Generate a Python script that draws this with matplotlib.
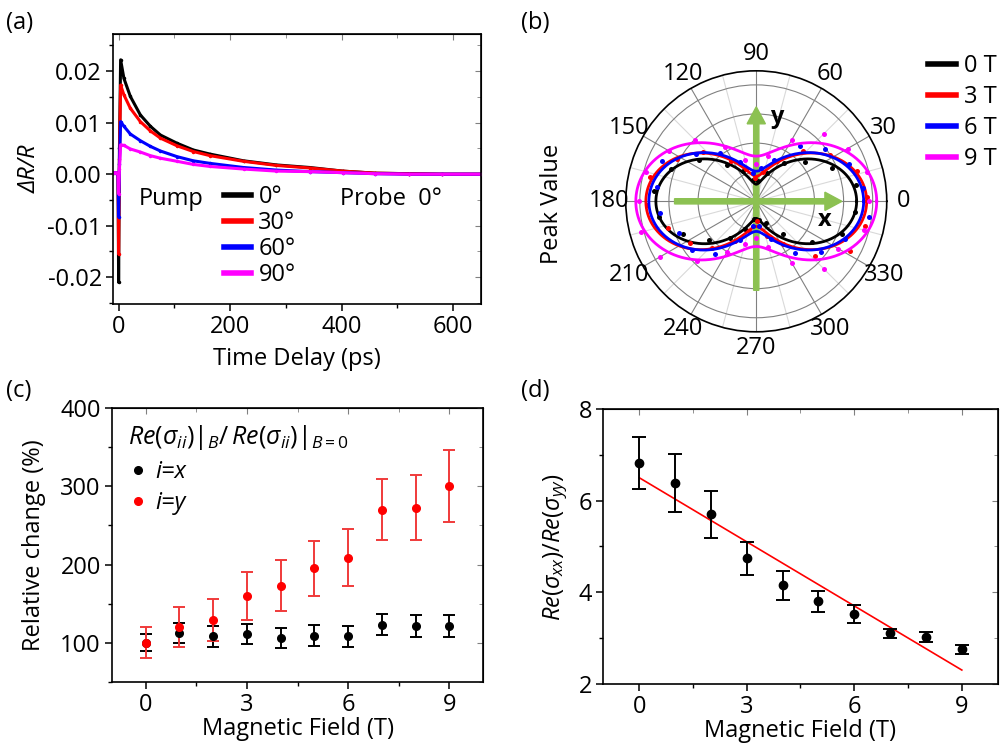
import numpy as np
import matplotlib
matplotlib.use("Agg")
import matplotlib.pyplot as plt
from matplotlib.lines import Line2D
from matplotlib.patches import FancyArrow
from matplotlib.ticker import MultipleLocator, FormatStrFormatter

plt.rcParams["font.family"] = ["Open Sans", "DejaVu Sans"]
plt.rcParams["font.size"] = 17
plt.rcParams["axes.unicode_minus"] = False
plt.rcParams["mathtext.fontset"] = "custom"
plt.rcParams["mathtext.rm"] = "Open Sans"
plt.rcParams["mathtext.it"] = "Open Sans:italic"

# (a) transient reflectivity
t_ps = [-10, -4, -1, 0, 1.5, 3.6, 9.5, 21, 39, 57, 75, 105, 134, 164, 224, 283, 343, 402, 460, 520, 580, 650]
dr_0 = [0.0003, 0.0003, 0.0002, -0.021, 0.005, 0.0222, 0.0186, 0.0151, 0.0115, 0.0093, 0.0076, 0.0060,
        0.0047, 0.0039, 0.0026, 0.0018, 0.0013, 0.0006, 0.0002, 0.0001, 0.0, 0.0]
dr_30 = [0.0003, 0.0003, 0.0002, -0.0155, 0.003, 0.0173, 0.0154, 0.0128, 0.0102, 0.0084, 0.0070, 0.0055,
         0.0044, 0.0036, 0.0025, 0.0017, 0.0012, 0.0006, 0.0002, 0.0001, 0.0, 0.0]
dr_60 = [0.0003, 0.0003, 0.0002, -0.0083, 0.002, 0.0102, 0.0093, 0.0078, 0.0065, 0.0054, 0.0045, 0.0034,
         0.0026, 0.0021, 0.0013, 0.0008, 0.0005, 0.0003, 0.0001, 0.0, 0.0, 0.0]
dr_90 = [0.0003, 0.0003, 0.0002, -0.0038, 0.001, 0.0057, 0.0056, 0.0049, 0.0043, 0.0036, 0.0031, 0.0025,
         0.0019, 0.0015, 0.0010, 0.0006, 0.0005, 0.0003, 0.0001, 0.0, 0.0, 0.0]
pump_labels = ["0°", "30°", "60°", "90°"]
colors = ["black", "#ff0000", "#0000ff", "#ff00ff"]

# (b) polar peak values: fit parameters r = A cos^2 + B sin^2 and measured dots
field_labels = ["0 T", "3 T", "6 T", "9 T"]
fit_a = [1.00, 1.10, 1.07, 1.20]
fit_b = [0.17, 0.25, 0.30, 0.45]
dot_start = [9, 2, 7, 0]
peak_0T = [1.01, .825, .62, .47, .30, .20, .22, .33, .46, .70, .91, 1.02,
           .985, .80, .61, .45, .30, .18, .19, .24, .42, .69, .915, .99]
peak_3T = [1.10, 1.05, .87, .69, .45, .30, .23, .34, .47, .72, .89, 1.085,
           1.09, .92, .78, .64, .45, .30, .20, .36, .50, .80, 1.06, 1.11]
peak_6T = [1.07, 1.00, .86, .70, .45, .34, .28, .42, .60, .76, 1.02, 1.00,
           .97, .83, .80, .66, .42, .25, .25, .40, .64, .82, .96, 1.13]
peak_9T = [1.12, 1.14, 1.05, .95, .71, .47, .37, .43, .62, .87, 1.0, 1.14,
           1.17, 1.19, 1.11, .84, .58, .44, .37, .47, .71, .95, .945, 1.11]

# (c) relative change vs field
field_t = [0, 1, 2, 3, 4, 5, 6, 7, 8, 9]
rel_x = [100, 112, 108, 111, 106, 109, 108, 123, 121, 121]
rel_x_err = [11, 13, 13, 13, 13, 13, 13, 13.5, 14, 14]
rel_y = [100, 120, 129, 160, 173, 195, 209, 270, 273, 301]
rel_y_err = [20, 26, 27, 31, 33, 35, 37, 39, 41, 46]

# (d) anisotropy ratio
ratio = [6.82, 6.39, 5.70, 4.74, 4.15, 3.80, 3.53, 3.10, 3.03, 2.75]
ratio_err = [0.57, 0.63, 0.51, 0.36, 0.31, 0.23, 0.20, 0.10, 0.11, 0.10]

GREEN = "#8cc152"


def mirror_ticks(ax, xmajor, xminor, ymajor, yminor):
    top = ax.secondary_xaxis("top")
    top.xaxis.set_major_locator(MultipleLocator(xmajor))
    top.xaxis.set_minor_locator(MultipleLocator(xminor))
    top.tick_params(which="both", direction="in", labeltop=False, color="0.5")
    top.tick_params(which="major", length=4)
    top.tick_params(which="minor", length=3)
    right = ax.secondary_yaxis("right")
    right.yaxis.set_major_locator(MultipleLocator(ymajor))
    right.yaxis.set_minor_locator(MultipleLocator(yminor))
    right.tick_params(which="both", direction="in", labelright=False, color="0.5")
    right.tick_params(which="major", length=4)
    right.tick_params(which="minor", length=3)


def style_box(ax):
    for s in ax.spines.values():
        s.set_linewidth(1.2)
    ax.tick_params(which="major", direction="out", length=5, width=1.1, pad=3)
    ax.tick_params(which="minor", direction="out", length=3, width=1.0)


def plot_a(fig):
    ax = fig.add_axes([0.1127, 0.5930, 0.3669, 0.3614])
    for vals, c in zip([dr_0, dr_30, dr_60, dr_90], colors):
        ax.plot(t_ps, vals, "-", color=c, lw=2.2, marker=".", ms=3)
    ax.set_xlim(-10, 650)
    ax.set_ylim(-0.0252, 0.0272)
    ax.xaxis.set_major_locator(MultipleLocator(200))
    ax.xaxis.set_minor_locator(MultipleLocator(100))
    ax.yaxis.set_major_locator(MultipleLocator(0.01))
    ax.yaxis.set_minor_locator(MultipleLocator(0.005))
    ax.yaxis.set_major_formatter(FormatStrFormatter("%.2f"))
    style_box(ax)
    mirror_ticks(ax, 200, 100, 0.01, 0.005)
    ax.set_xlabel("Time Delay (ps)", labelpad=6)
    ax.set_ylabel("ΔR/R", style="italic", labelpad=4)

    handles = [Line2D([], [], color=c, lw=4) for c in colors]
    ax.legend(handles, pump_labels, loc="upper left", bbox_to_anchor=(0.302, 0.44),
              frameon=False, borderpad=0, borderaxespad=0, handlelength=1.15,
              handletextpad=0.3, labelspacing=0.08)
    ax.text(0.071, 0.389, "Pump", transform=ax.transAxes, va="center", ha="left")
    ax.text(0.617, 0.389, "Probe  0°", transform=ax.transAxes, va="center", ha="left")


def plot_b(fig):
    ax = fig.add_axes([0.6239, 0.5558, 0.2602, 0.3494], projection="polar")
    theta = np.linspace(0, 2 * np.pi, 721)
    peaks = [peak_0T, peak_3T, peak_6T, peak_9T]
    for a, b, start, dots, c in zip(fit_a, fit_b, dot_start, peaks, colors):
        r = a * np.cos(theta) ** 2 + b * np.sin(theta) ** 2
        ax.plot(theta, r, color=c, lw=2.0, zorder=3)
        ang = np.deg2rad(np.arange(start, 360, 15))
        ax.plot(ang, dots, "o", color=c, ms=3.6, mec="none", zorder=3)

    ax.set_ylim(0, 1.30)
    ax.set_yticks([0.29, 0.58, 0.87, 1.16])
    ax.set_yticklabels([])
    ax.set_xticks(np.deg2rad(np.arange(0, 360, 30)))
    ax.set_xticklabels([str(d) for d in range(0, 360, 30)])
    ax.set_xticks(np.deg2rad(np.arange(15, 360, 30)), minor=True)
    ax.xaxis.grid(True, which="major", color="0.5", lw=0.8)
    ax.xaxis.grid(True, which="minor", color="0.85", lw=0.8)
    ax.yaxis.grid(True, color="0.5", lw=0.8)
    ax.tick_params(axis="x", which="both", length=0, pad=5)
    ax.spines["polar"].set_linewidth(1.2)

    ax.add_patch(FancyArrow(0.187, 0.5, 0.641, 0, width=0.02, head_width=0.07, head_length=0.065,
                            length_includes_head=True, transform=ax.transAxes, color=GREEN,
                            zorder=2, clip_on=False))
    ax.add_patch(FancyArrow(0.5, 0.159, 0, 0.703, width=0.02, head_width=0.07, head_length=0.065,
                            length_includes_head=True, transform=ax.transAxes, color=GREEN,
                            zorder=2, clip_on=False))
    ax.text(0.763, 0.428, "x", transform=ax.transAxes, ha="center", va="center", fontweight="bold")
    ax.text(0.578, 0.823, "y", transform=ax.transAxes, ha="center", va="center", fontweight="bold")

    fig.text(0.550, 0.727, "Peak Value", rotation=90, ha="center", va="center")
    handles = [Line2D([], [], color=c, lw=4) for c in colors]
    fig.legend(handles, field_labels, loc="upper left", bbox_to_anchor=(0.925, 0.928),
               frameon=False, borderpad=0, borderaxespad=0, handlelength=1.2,
               handletextpad=0.35, labelspacing=0.3)


def plot_c(fig):
    ax = fig.add_axes([0.1117, 0.0874, 0.3699, 0.366])
    ax.errorbar(field_t, rel_x, yerr=rel_x_err, fmt="o", color="black", ms=5.5,
                elinewidth=1.4, capsize=4, capthick=1.4, zorder=3)
    ax.errorbar(field_t, rel_y, yerr=rel_y_err, fmt="o", color="#ff0000", ecolor="#f03a3a", ms=5.5,
                elinewidth=1.4, capsize=4, capthick=1.4, zorder=3)
    ax.set_xlim(-1, 10)
    ax.set_ylim(50, 400)
    ax.xaxis.set_major_locator(MultipleLocator(3))
    ax.xaxis.set_minor_locator(MultipleLocator(1.5))
    ax.yaxis.set_major_locator(MultipleLocator(100))
    ax.yaxis.set_minor_locator(MultipleLocator(50))
    style_box(ax)
    mirror_ticks(ax, 3, 1.5, 100, 50)
    ax.set_xlabel("Magnetic Field (T)", labelpad=0)
    ax.set_ylabel("Relative change (%)", labelpad=10)

    ax.text(0.043, 0.895, r"$Re(\sigma_{ii})|_B/\,Re(\sigma_{ii})|_{B=0}$", transform=ax.transAxes,
            ha="left", va="center", fontsize=18)
    handles = [Line2D([], [], ls="none", marker="o", color="black", ms=5.5),
               Line2D([], [], ls="none", marker="o", color="#ff0000", ms=5.5)]
    ax.legend(handles, ["i=x", "i=y"], loc="upper left", bbox_to_anchor=(0.039, 0.81),
              frameon=False, borderpad=0, borderaxespad=0, handlelength=1.0,
              handletextpad=0.2, labelspacing=0.3, prop={"style": "italic", "size": 17})


def plot_d(fig):
    ax = fig.add_axes([0.6015, 0.0848, 0.3932, 0.3673])
    ax.errorbar(field_t, ratio, yerr=ratio_err, fmt="o", color="black", ms=6,
                elinewidth=1.4, capsize=5, capthick=1.4, zorder=3)
    slope, icpt = np.polyfit(field_t, ratio, 1)
    xs = np.array([field_t[0], field_t[-1]])
    ax.plot(xs, icpt + slope * xs, color="#ff0000", lw=1.2, zorder=2)
    ax.set_xlim(-1, 10)
    ax.set_ylim(2, 8)
    ax.xaxis.set_major_locator(MultipleLocator(3))
    ax.xaxis.set_minor_locator(MultipleLocator(1.5))
    ax.yaxis.set_major_locator(MultipleLocator(2))
    ax.yaxis.set_minor_locator(MultipleLocator(1))
    style_box(ax)
    mirror_ticks(ax, 3, 1.5, 2, 1)
    ax.set_xlabel("Magnetic Field (T)", labelpad=0)
    ax.set_ylabel(r"$Re(\sigma_{xx})/Re(\sigma_{yy})$", labelpad=6)


def main():
    fig = plt.figure(figsize=(10.03, 7.47), dpi=100)
    plot_a(fig)
    plot_b(fig)
    plot_c(fig)
    plot_d(fig)
    fig.text(0.006, 0.985, "(a)", ha="left", va="top")
    fig.text(0.519, 0.985, "(b)", ha="left", va="top")
    fig.text(0.006, 0.493, "(c)", ha="left", va="top")
    fig.text(0.519, 0.493, "(d)", ha="left", va="top")
    fig.savefig("out.png", dpi=100)


if __name__ == "__main__":
    main()
